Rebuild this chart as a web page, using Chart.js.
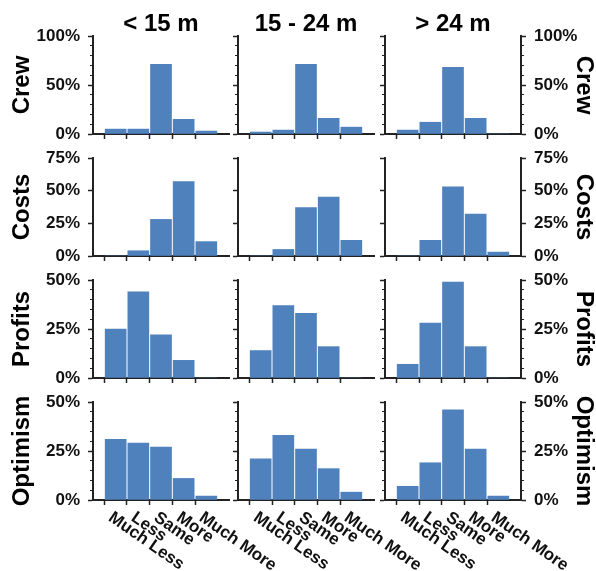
<!DOCTYPE html>
<html>
<head>
<meta charset="utf-8">
<script src="https://cdn.jsdelivr.net/npm/chart.js@4.4.1/dist/chart.umd.min.js"></script>
<style>
  html, body { margin: 0; padding: 0; background: #fff; overflow: hidden; }
  #wrap { position: relative; width: 596px; height: 571px; }
  #wrap canvas { position: absolute; left: 0; top: 0; }
</style>
</head>
<body>
<div id="wrap"></div>
<script>
const categorias = ['Much Less', 'Less', 'Same', 'More', 'Much More']
const grupos = ['< 15 m', '15 - 24 m', '> 24 m']
const temas = ['Crew', 'Costs', 'Profits', 'Optimism']

// % of answers, one list per boat size (< 15 m, 15 - 24 m, > 24 m)
const crew = [[5, 5, 71, 15, 3], [2, 4, 71, 16, 7], [4, 12, 68, 16, 0]]
const costs = [[0, 4, 28, 57, 11], [0, 5, 37, 45, 12], [0, 12, 53, 32, 3]]
const profits = [[25, 44, 22, 9, 0], [14, 37, 33, 16, 0], [7, 28, 49, 16, 0]]
const optimism = [[31, 29, 27, 11, 2], [21, 33, 26, 16, 4], [7, 19, 46, 26, 2]]

// y ticks per row
const ejeMax = [100, 75, 50, 50]
const ejePaso = [50, 25, 25, 25]
const ejeMenor = [10, 0, 5, 5]

const valores = [crew, costs, profits, optimism]

const W = 596
const H = 571
const colLeft = [93, 238, 385]
const rowTop = [36, 158, 280, 402]
const ancho = 136
const alto = 98
const azul = '#4F81BD'
const negro = '#222'

Chart.defaults.font.family = '"Liberation Sans", Arial, sans-serif'
Chart.defaults.color = '#111'

const etiquetasAbajo = {
    id: 'etiquetasAbajo',
    afterDraw(chart) {
        const { ctx, chartArea } = chart
        const x = chart.scales.x
        ctx.save()
        ctx.font = 'bold 17px "Liberation Sans", Arial, sans-serif'
        ctx.fillStyle = '#111'
        ctx.textAlign = 'left'
        ctx.textBaseline = 'top'
        categorias.forEach((cat, i) => {
            const px = x.getPixelForValue(i + 1)
            ctx.save()
            ctx.translate(px - 0.5, chartArea.bottom + 9)
            ctx.rotate(35 * Math.PI / 180)
            ctx.fillText(cat, 0, 0)
            ctx.restore()
        })
        ctx.restore()
    }
}

const ejeMayor = (pos, r, conLabels, titulo) => ({
    position: pos,
    weight: 1,
    min: 0,
    max: ejeMax[r],
    ticks: {
        display: conLabels,
        stepSize: ejePaso[r],
        padding: 8,
        font: { size: 17, weight: 'bold' },
        color: '#111',
        callback: (v) => v + '%'
    },
    grid: { drawOnChartArea: false, tickLength: 5, tickWidth: 1.5, tickColor: negro },
    border: { display: true, color: negro, width: 2 },
    title: {
        display: !!titulo,
        text: titulo || '',
        color: '#000',
        font: { size: 24, weight: 'bold', lineHeight: 1 },
        padding: pos === 'left' ? { top: 10, bottom: 0 } : { top: 0, bottom: 0 }
    },
    afterFit: (s) => {
        if (pos === 'left') s.width = conLabels ? colLeft[0] : 0
        else s.width = W - (colLeft[2] + ancho)
    }
})

const ejeChico = (pos, r) => ({
    position: pos,
    weight: 0,
    min: 0,
    max: ejeMax[r],
    ticks: { display: false, stepSize: ejeMenor[r] },
    grid: { drawOnChartArea: false, tickLength: 3, tickWidth: 1, tickColor: negro },
    border: { display: false },
    afterFit: (s) => { s.width = 0 }
})

const wrap = document.getElementById('wrap')

temas.forEach((tema, r) => {
    grupos.forEach((grupo, c) => {
        const canvas = document.createElement('canvas')
        canvas.width = W
        canvas.height = H
        wrap.appendChild(canvas)

        const left = colLeft[c]
        const top = rowTop[r]
        const right = left + ancho
        const bottom = top + alto

        const scales = {
            x: {
                type: 'category',
                labels: ['', ...categorias, ''],
                offset: false,
                ticks: { display: false },
                grid: {
                    drawOnChartArea: false,
                    tickLength: 5,
                    tickWidth: 1.5,
                    tickColor: (ctx) => (ctx.index === 0 || ctx.index === 6) ? 'rgba(0,0,0,0)' : negro
                },
                border: { display: true, color: negro, width: 2 },
                afterFit: (s) => { s.height = 0 }
            },
            y: ejeMayor('left', r, c === 0, c === 0 ? tema : '')
        }
        if (ejeMenor[r]) scales.ym = ejeChico('left', r)
        if (c === 2) {
            scales.yr = ejeMayor('right', r, true, tema)
            if (ejeMenor[r]) scales.yrm = ejeChico('right', r)
        }

        new Chart(canvas, {
            type: 'bar',
            data: {
                labels: ['', ...categorias, ''],
                datasets: [{
                    data: [null, ...valores[r][c], null],
                    backgroundColor: azul,
                    borderWidth: 0,
                    barThickness: 21,
                    yAxisID: 'y'
                }]
            },
            options: {
                responsive: false,
                animation: false,
                layout: {
                    padding: {
                        left: c === 0 ? 0 : left,
                        right: c === 2 ? 0 : W - right,
                        top: r === 0 ? 0 : top,
                        bottom: H - bottom
                    }
                },
                plugins: {
                    legend: { display: false },
                    tooltip: { enabled: false },
                    title: {
                        display: r === 0,
                        text: grupo,
                        color: '#000',
                        fullSize: false,
                        font: { size: 24, weight: 'bold', lineHeight: 1 },
                        padding: { top: 12, bottom: 0 }
                    }
                },
                scales
            },
            plugins: r === 3 ? [etiquetasAbajo] : []
        })
    })
})
</script>
</body>
</html>
